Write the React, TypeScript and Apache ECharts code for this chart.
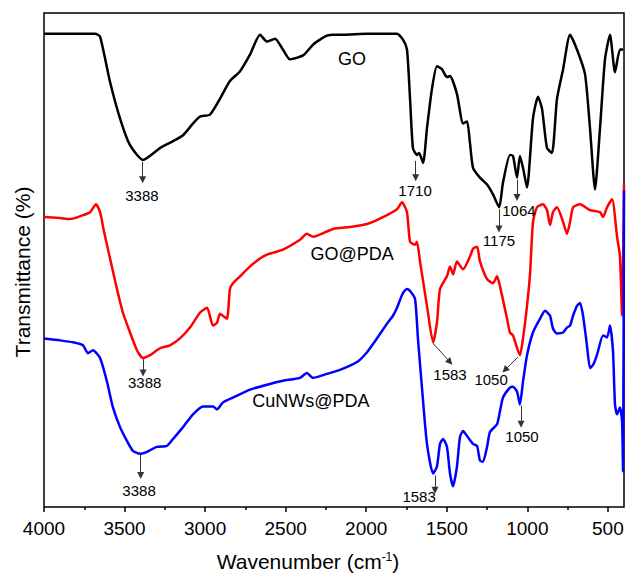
import React, { useEffect, useRef } from "react";
import * as echarts from "echarts";

// [wavenumber (cm-1), transmittance (arbitrary units, offset)]
const goData: [number, number][] = [
  [4000, 480], [3683, 480], [3652, 477], [3590, 431], [3528, 394], [3466, 367], [3386, 352],
  [3280, 364], [3199, 371], [3137, 377], [3075, 389], [3032, 396], [2970, 398], [2908, 414],
  [2846, 432], [2783, 442], [2721, 459], [2659, 479], [2616, 472], [2566, 475], [2517, 464],
  [2473, 454], [2392, 458], [2330, 469], [2287, 474], [2243, 478], [2206, 479], [2144, 479],
  [1995, 480], [1809, 480], [1772, 474], [1747, 464], [1728, 414], [1710, 364], [1685, 357],
  [1672, 359], [1647, 349], [1623, 384], [1592, 424], [1561, 447], [1530, 444], [1499, 436],
  [1480, 437], [1437, 419], [1399, 389], [1374, 391], [1356, 369], [1337, 344], [1294, 334],
  [1250, 327], [1213, 317], [1175, 304], [1151, 329], [1108, 357], [1089, 356], [1064, 334],
  [1046, 356], [1027, 344], [1002, 324], [965, 394], [934, 416], [909, 404], [878, 364],
  [847, 359], [816, 414], [778, 444], [735, 479], [692, 464], [642, 439], [611, 384],
  [580, 322], [549, 384], [518, 454], [487, 479], [456, 441], [425, 464], [406, 464],
];

const goPdaData: [number, number][] = [
  [4000, 294], [3901, 293], [3839, 292], [3758, 296], [3714, 299], [3677, 307], [3652, 299],
  [3627, 279], [3590, 252], [3547, 221], [3510, 197], [3466, 177], [3423, 159], [3386, 151],
  [3342, 154], [3280, 161], [3218, 164], [3156, 171], [3094, 182], [3032, 197], [2988, 202],
  [2951, 184], [2926, 187], [2908, 196], [2889, 194], [2864, 191], [2846, 221], [2827, 227],
  [2783, 234], [2721, 244], [2659, 252], [2616, 256], [2517, 261], [2411, 271], [2368, 277],
  [2330, 274], [2206, 282], [2101, 284], [1995, 287], [1896, 294], [1809, 302], [1778, 309],
  [1747, 299], [1728, 269], [1697, 266], [1685, 269], [1666, 249], [1623, 204], [1585, 167],
  [1561, 187], [1542, 221], [1499, 234], [1480, 244], [1461, 236], [1437, 249], [1399, 241],
  [1356, 254], [1337, 262], [1312, 264], [1294, 249], [1250, 231], [1213, 227], [1188, 234],
  [1170, 224], [1126, 191], [1108, 177], [1089, 174], [1046, 154], [1027, 171], [1002, 204],
  [983, 237], [965, 289], [940, 304], [903, 307], [878, 301], [859, 286], [841, 299],
  [816, 304], [778, 289], [754, 277], [735, 289], [716, 304], [673, 307], [611, 301],
  [549, 299], [530, 294], [505, 304], [474, 312], [443, 274], [425, 254], [412, 194], [400, 327],
];

const cuData: [number, number][] = [
  [4000, 171], [3901, 169], [3820, 167], [3758, 164], [3727, 156], [3696, 159], [3652, 151],
  [3609, 127], [3572, 101], [3528, 81], [3485, 67], [3448, 57], [3404, 54], [3361, 56],
  [3299, 61], [3237, 62], [3199, 69], [3137, 81], [3075, 94], [3013, 102], [2951, 102],
  [2926, 99], [2889, 106], [2827, 111], [2721, 119], [2616, 124], [2517, 128], [2411, 131],
  [2368, 136], [2330, 131], [2243, 135], [2163, 139], [2057, 147], [1995, 157], [1933, 171],
  [1871, 186], [1834, 194], [1809, 202], [1772, 217], [1747, 221], [1728, 219], [1697, 211],
  [1679, 171], [1654, 121], [1623, 64], [1585, 34], [1561, 41], [1542, 64], [1523, 69],
  [1499, 61], [1480, 34], [1461, 21], [1437, 41], [1418, 71], [1399, 77], [1374, 72],
  [1337, 64], [1312, 62], [1294, 47], [1275, 46], [1250, 61], [1232, 76], [1188, 84],
  [1170, 97], [1151, 111], [1108, 121], [1089, 122], [1064, 117], [1046, 104], [1027, 127],
  [1002, 154], [965, 177], [921, 191], [890, 199], [859, 194], [841, 181], [816, 176],
  [778, 177], [754, 182], [735, 184], [716, 194], [692, 204], [673, 207], [654, 194],
  [630, 164], [611, 141], [592, 144], [568, 154], [530, 174], [505, 172], [487, 184],
  [468, 157], [456, 104], [443, 94], [425, 101], [412, 87], [406, 36], [400, 321],
];

const majorTicks = [4000, 3500, 3000, 2500, 2000, 1500, 1000, 500];
const minorTicks = [3750, 3250, 2750, 2250, 1750, 1250, 750];

const seriesNames = ["GO", "GO@PDA", "CuNWs@PDA"];
const seriesColors = ["#000000", "#ff0000", "#0000ff"];
// series name label positions [wavenumber, value]
const nameLabelPos: [number, number][] = [[2088, 454], [2088, 257], [2343, 107]];

// arrows: [from, to] in [wavenumber, value]
const goArrows: [[number, number], [number, number]][] = [
  [[3388, 350], [3388, 332]],
  [[1693, 351], [1693, 334]],
  [[1176, 302], [1176, 282]],
  [[1064, 332], [1064, 314]],
];
const goPdaArrows: [[number, number], [number, number]][] = [
  [[3385, 150], [3385, 136]],
  [[1585, 166], [1480, 147]],
  [[1058, 152], [1139, 139]],
];
const cuArrows: [[number, number], [number, number]][] = [
  [[3400, 53], [3400, 32]],
  [[1573, 32], [1573, 17]],
  [[1039, 103], [1039, 84]],
];

// peak label texts with positions [wavenumber, value]
const goPeakLabels: [string, number, number][] = [
  ["3388", 3392, 316], ["1710", 1697, 321], ["1175", 1176, 270], ["1064", 1052, 301],
];
const goPdaPeakLabels: [string, number, number][] = [
  ["3388", 3375, 126], ["1583", 1480, 134], ["1050", 1225, 129],
];
const cuPeakLabels: [string, number, number][] = [
  ["3388", 3410, 17], ["1583", 1672, 11], ["1050", 1033, 71],
];

const FONT = '"Liberation Sans", Arial, sans-serif';

function buildSeries(
  idx: number,
  data: [number, number][],
  arrows: [[number, number], [number, number]][],
  peaks: [string, number, number][]
) {
  return {
    name: seriesNames[idx],
    type: "line",
    data,
    showSymbol: false,
    symbol: "none",
    smooth: 0.2,
    lineStyle: { color: seriesColors[idx], width: 2.5 },
    itemStyle: { color: seriesColors[idx] },
    silent: true,
    markLine: {
      silent: true,
      animation: false,
      symbol: ["none", "triangle"],
      symbolSize: 7,
      label: { show: false },
      lineStyle: { color: "#333", width: 1, type: "solid" },
      emphasis: { disabled: true },
      data: arrows.map((a) => [{ coord: a[0] }, { coord: a[1] }]),
    },
    markPoint: {
      silent: true,
      animation: false,
      symbol: "circle",
      symbolSize: 0,
      data: [
        ...peaks.map((p) => ({
          coord: [p[1], p[2]],
          label: {
            show: true,
            position: "inside",
            formatter: p[0],
            color: "#000",
            fontSize: 15,
            fontFamily: FONT,
          },
        })),
        {
          coord: nameLabelPos[idx],
          label: {
            show: true,
            position: "inside",
            formatter: seriesNames[idx],
            color: "#000",
            fontSize: 18,
            fontFamily: FONT,
          },
        },
      ],
    },
  };
}

export default function App() {
  const ref = useRef<HTMLDivElement>(null);
  useEffect(() => {
    if (!ref.current) return;
    const chart = echarts.init(ref.current, undefined, { renderer: "svg" });
    chart.setOption({
      animation: false,
      backgroundColor: "#ffffff",
      textStyle: { fontFamily: FONT },
      grid: {
        left: 44,
        top: 13,
        right: 3,
        bottom: 63,
        show: true,
        borderColor: "#000",
        borderWidth: 1.5,
        containLabel: false,
      },
      xAxis: [
        {
          type: "value",
          min: 400,
          max: 4000,
          inverse: true,
          position: "bottom",
          splitLine: { show: false },
          axisLine: { show: false },
          axisTick: {
            show: true,
            inside: false,
            length: 5,
            customValues: majorTicks,
            lineStyle: { color: "#000", width: 1.5 },
          },
          axisLabel: {
            show: true,
            customValues: majorTicks,
            formatter: (v: number) => String(v),
            margin: 12,
            color: "#000",
            fontSize: 19,
            fontFamily: FONT,
          },
          name: "Wavenumber (cm{sup|-1})",
          nameLocation: "middle",
          nameGap: 44,
          nameTextStyle: {
            color: "#000",
            fontSize: 21,
            fontFamily: FONT,
            padding: [0, 52, 0, 0],
            rich: {
              sup: { fontSize: 12, verticalAlign: "top", color: "#000", fontFamily: FONT, padding: [0, 0, 8, 0] },
            },
          },
        },
        {
          type: "value",
          min: 400,
          max: 4000,
          inverse: true,
          position: "bottom",
          splitLine: { show: false },
          axisLine: { show: false },
          axisTick: {
            show: true,
            inside: false,
            length: 3,
            customValues: minorTicks,
            lineStyle: { color: "#000", width: 1.5 },
          },
          axisLabel: { show: false },
        },
      ],
      yAxis: {
        type: "value",
        min: 0,
        max: 501,
        axisLine: { show: false },
        axisTick: { show: false },
        axisLabel: { show: false },
        splitLine: { show: false },
        name: "Transmittance (%)",
        nameLocation: "middle",
        nameGap: 11,
        nameTextStyle: { color: "#000", fontSize: 21, fontFamily: FONT, padding: [0, 24, 0, 0] },
      },
      series: [
        buildSeries(0, goData, goArrows, goPeakLabels),
        buildSeries(1, goPdaData, goPdaArrows, goPdaPeakLabels),
        buildSeries(2, cuData, cuArrows, cuPeakLabels),
      ],
    });
    return () => chart.dispose();
  }, []);
  return (
    <div
      ref={ref}
      style={{ position: "absolute", left: 0, top: 0, width: 627, height: 577, background: "#fff" }}
    />
  );
}
